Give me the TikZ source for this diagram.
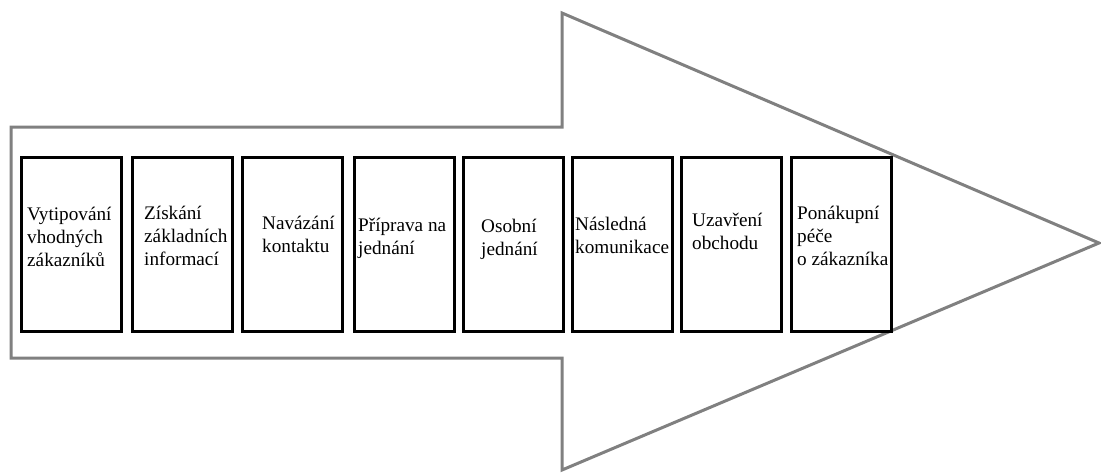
\documentclass[tikz,border=0pt]{standalone}
\usepackage{fontspec}
\setmainfont{Liberation Serif}
\begin{document}
\begin{tikzpicture}[x=1pt,y=-1pt,
  stepbox/.style={draw=black,line width=3pt,fill=white,minimum width=100pt,minimum height=174pt,inner sep=0pt},
  steptext/.style={anchor=base west,align=left,inner sep=0pt,font=\fontsize{19.2}{22.8}\selectfont},
  arrowshape/.style={draw={rgb,255:red,128;green,128;blue,128},line width=3pt,line join=miter}]
\useasboundingbox (0,0) rectangle (1101,472);
\draw[arrowshape] (11,127) -- (562,127) -- (562,13) -- (1099,243) -- (562,470) -- (562,358) -- (11,358) -- cycle;
\node[stepbox] (b1) at (71.5,244.5) {};
\node[stepbox] (b2) at (182,244.5) {};
\node[stepbox] (b3) at (292.5,244.5) {};
\node[stepbox] (b4) at (404,244.5) {};
\node[stepbox] (b5) at (513.5,244.5) {};
\node[stepbox] (b6) at (622,244.5) {};
\node[stepbox] (b7) at (731.5,244.5) {};
\node[stepbox] (b8) at (841.5,244.5) {};
\node[steptext] (t1) at (27,266) {Vytipování\\vhodných\\zákazníků};
\node[steptext] (t2) at (144,265) {Získání\\základních\\informací};
\node[steptext] (t3) at (262,252) {Navázání\\kontaktu};
\node[steptext] (t4) at (358,254) {Příprava na\\jednání};
\node[steptext] (t5) at (481,255) {Osobní\\jednání};
\node[steptext] (t6) at (575,253) {Následná\\komunikace};
\node[steptext] (t7) at (692,249) {Uzavření\\obchodu};
\node[steptext] (t8) at (797,265) {Ponákupní\\péče\\o zákazníka};
\end{tikzpicture}
\end{document}
